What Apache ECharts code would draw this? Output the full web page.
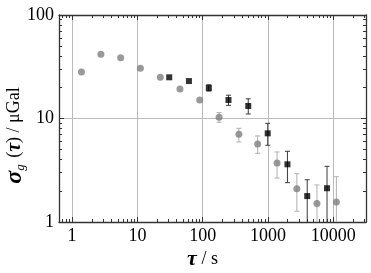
<!DOCTYPE html>
<html><head><meta charset="utf-8">
<script src="https://cdn.jsdelivr.net/npm/echarts@6/dist/echarts.min.js"></script>
<style>html,body{margin:0;padding:0;background:#fff}#c{width:371px;height:273px}</style>
</head><body><div id="c"></div>
<script>
// Gray circles
const grayTau = [1.39, 2.76, 5.54, 11.1, 22.4, 44.8, 89.9, 178, 358, 694, 1375, 2762, 5612, 11130];
const grayVal = [28.1, 41.7, 38.7, 30.5, 25.0, 19.3, 15.1, 10.3, 7.03, 5.67, 3.72, 2.10, 1.51, 1.56];
const grayLo  = [null, null, null, null, null, null, null, 9.19, 5.93, 4.61, 2.66, 1.27, 0.8, 0.8];
const grayHi  = [null, null, null, null, null, null, null, 11.4, 8.04, 6.78, 4.75, 2.93, 2.28, 2.74];
// Black squares
const blackTau = [30.7, 61.5, 124, 248, 498, 989, 1982, 3981, 8000];
const blackVal = [25.0, 23.0, 19.7, 15.1, 13.2, 7.19, 3.61, 1.78, 2.12];
const blackLo  = [null, null, 18.4, 13.4, 11.05, 5.51, 2.40, 0.8, 0.8];
const blackHi  = [null, null, 21.2, 16.8, 15.5, 8.98, 4.82, 2.56, 3.45];
// Axes
const xMin = 0.63, xMax = 31623, yMin = 1, yMax = 100;
const xMajor = [1, 10, 100, 1000, 10000];
const xMinor = [0.7,0.8,0.9, 2,3,4,5,6,7,8,9, 20,30,40,50,60,70,80,90, 200,300,400,500,600,700,800,900, 2000,3000,4000,5000,6000,7000,8000,9000, 20000,30000];
const yMajor = [1, 10, 100];
const yMinor = [2,3,4,5,6,7,8,9, 20,30,40,50,60,70,80,90];

const font = 'Liberation Serif';
const frame = {show:true, lineStyle:{color:'#333', width:1.3}};
const fmt = v => String(Math.round(v));
function xa(pos, ticks, len, line, labels, split){
  return {type:'log', logBase:10, min:xMin, max:xMax, position:pos, nameMoveOverlap:false,
    axisLine: line ? frame : {show:false},
    axisTick:{show:true, inside:true, length:len, customValues:ticks, lineStyle:{color:'#333', width:1}},
    axisLabel: labels ? {show:true, customValues:xMajor, formatter:fmt, color:'#000', fontFamily:font, fontSize:18, margin:5} : {show:false},
    splitLine:{show:!!split, lineStyle:{color:'#bbb', width:1}},
    minorTick:{show:false}, minorSplitLine:{show:false}};
}
function ya(pos, ticks, len, line, labels, split){
  return {type:'log', logBase:10, min:yMin, max:yMax, position:pos, nameMoveOverlap:false,
    axisLine: line ? frame : {show:false},
    axisTick:{show:true, inside:true, length:len, customValues:ticks, lineStyle:{color:'#333', width:1}},
    axisLabel: labels ? {show:true, customValues:yMajor, formatter:fmt, color:'#000', fontFamily:font, fontSize:18, margin:5} : {show:false},
    splitLine:{show:!!split, lineStyle:{color:'#bbb', width:1}},
    minorTick:{show:false}, minorSplitLine:{show:false}};
}
const xAxes = [xa('bottom', xMajor, 5, true, true, true), xa('bottom', xMinor, 3, false), xa('top', xMajor, 5, true), xa('top', xMinor, 3, false)];
const yAxes = [ya('left', yMajor, 5, true, true, true), ya('left', yMinor, 3, false), ya('right', yMajor, 5, true), ya('right', yMinor, 3, false)];
xAxes[0].name = '{t|τ} / s';
xAxes[0].nameLocation = 'middle';
xAxes[0].nameGap = 26;
xAxes[0].nameTextStyle = {fontFamily:font, fontSize:18, color:'#000', padding:[0,20,0,0], rich:{t:{fontFamily:font, fontStyle:'italic', fontWeight:'bold', fontSize:22, color:'#000'}}};
yAxes[0].name = '{s|σ}{g|g} ({t|τ}) / μGal';
yAxes[0].nameLocation = 'middle';
yAxes[0].nameRotate = 90;
yAxes[0].nameGap = 32;
yAxes[0].nameTextStyle = {fontFamily:font, fontSize:18, color:'#000', padding:[0,34,0,0], rich:{
  s:{fontFamily:font, fontStyle:'italic', fontWeight:'bold', fontSize:24, color:'#000'},
  g:{fontFamily:font, fontStyle:'italic', fontSize:13, color:'#000', padding:[12,2,0,0]},
  t:{fontFamily:font, fontStyle:'italic', fontWeight:'bold', fontSize:20, color:'#000'}}};

function errData(tau, lo, hi){
  const d = [];
  for (let i=0;i<tau.length;i++) if (lo[i]!=null) d.push([tau[i], lo[i], hi[i]]);
  return d;
}
function errSeries(data, color){
  return {type:'custom', xAxisIndex:0, yAxisIndex:0, data:data, clip:true, z:1,
    encode:{x:0, y:[1,2]},
    renderItem:function(params, api){
      const x = api.value(0);
      const p1 = api.coord([x, api.value(1)]);
      const p2 = api.coord([x, api.value(2)]);
      const w = 2.5;
      const st = {stroke:color, lineWidth:1};
      return {type:'group', children:[
        {type:'line', shape:{x1:p1[0], y1:p1[1], x2:p2[0], y2:p2[1]}, style:st},
        {type:'line', shape:{x1:p1[0]-w, y1:p1[1], x2:p1[0]+w, y2:p1[1]}, style:st},
        {type:'line', shape:{x1:p2[0]-w, y1:p2[1], x2:p2[0]+w, y2:p2[1]}, style:st}
      ]};
    }};
}

const chart = echarts.init(document.getElementById('c'), null, {renderer:'canvas'});
chart.setOption({
  animation:false,
  backgroundColor:'#fff',
  grid:{left:59, right:5, top:15, bottom:51, containLabel:false, outerBoundsMode:'none'},
  xAxis:xAxes, yAxis:yAxes,
  series:[
    errSeries(errData(grayTau, grayLo, grayHi), '#b0b0b0'),
    errSeries(errData(blackTau, blackLo, blackHi), '#3a3a3a'),
    {type:'scatter', xAxisIndex:0, yAxisIndex:0, symbol:'circle', symbolSize:7, z:3,
      itemStyle:{color:'#7f7f7f'}, data:grayTau.map((t,i)=>[t, grayVal[i]])},
    {type:'scatter', xAxisIndex:0, yAxisIndex:0, symbol:'rect', symbolSize:6, z:4,
      itemStyle:{color:'#000'}, data:blackTau.map((t,i)=>[t, blackVal[i]])}
  ]
});
</script></body></html>
